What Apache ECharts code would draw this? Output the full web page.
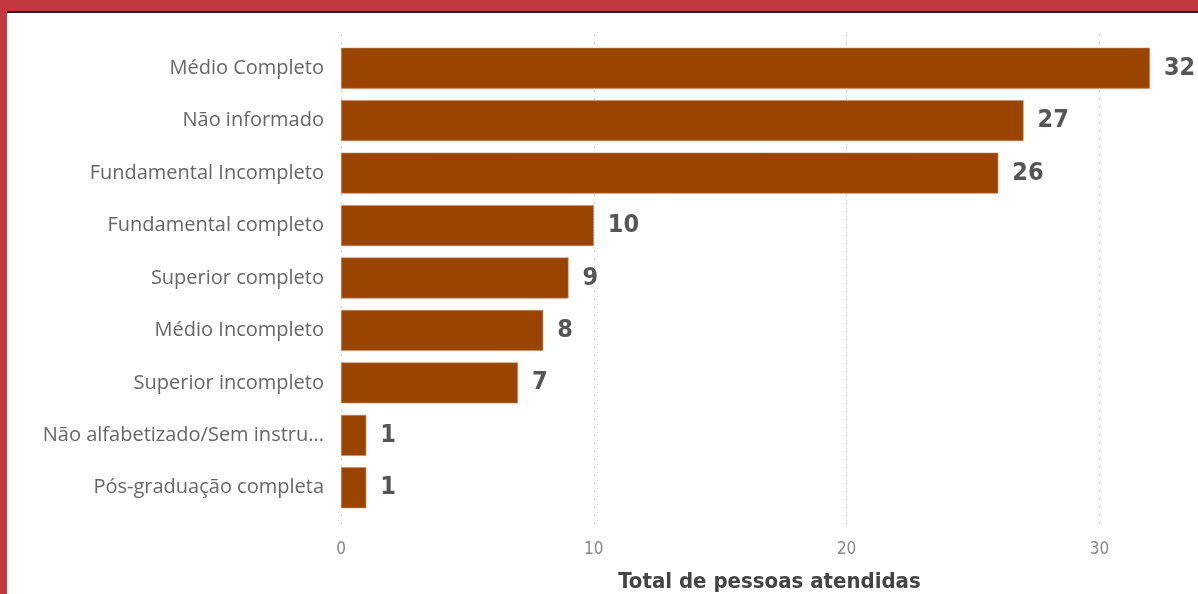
<!DOCTYPE html>
<html>
<head>
<meta charset="utf-8">
<script src="https://cdn.jsdelivr.net/npm/echarts@6/dist/echarts.min.js"></script>
<style>
html,body{margin:0;padding:0;width:1198px;height:594px;overflow:hidden;background:#fff;}
#top{position:absolute;left:0;top:0;width:1198px;height:11px;background:#C4393F;}
#topline{position:absolute;left:7px;top:11px;width:1191px;height:2px;background:#222;}
#left{position:absolute;left:0;top:0;width:7px;height:594px;background:#C4393F;}
#chart{position:absolute;left:0;top:0;width:1198px;height:594px;}
</style>
</head>
<body>
<div id="chart"></div>
<div id="top"></div>
<div id="topline"></div>
<div id="left"></div>
<script>
const categories = [
  "Médio Completo",
  "Não informado",
  "Fundamental Incompleto",
  "Fundamental completo",
  "Superior completo",
  "Médio Incompleto",
  "Superior incompleto",
  "Não alfabetizado/Sem instrução",
  "Pós-graduação completa"
];
const values = [32, 27, 26, 10, 9, 8, 7, 1, 1];
const xTicks = [0, 10, 20, 30];
const axisTitle = "Total de pessoas atendidas";
const xMax = 33.9;

const chart = echarts.init(document.getElementById('chart'));
chart.setOption({
  animation: false,
  grid: [
    {left: 341, top: 42, width: 857, height: 472, containLabel: false, outerBoundsMode: 'none'},
    {left: 341, top: 34, width: 857, height: 496, containLabel: false, outerBoundsMode: 'none'}
  ],
  xAxis: [
    {
      gridIndex: 0, type: 'value', min: 0, max: xMax, interval: 10,
      axisLine: {show: false}, axisTick: {show: false}, axisLabel: {show: false},
      splitLine: {show: false}
    },
    {
      gridIndex: 1, type: 'value', min: 0, max: xMax, interval: 10,
      axisLine: {show: false}, axisTick: {show: false},
      axisLabel: {
        color: '#888', fontFamily: 'DejaVu Sans Condensed', fontSize: 17, margin: 11,
        showMaxLabel: false,
        formatter: v => xTicks.includes(v) ? String(v) : ''
      },
      splitLine: {show: true, lineStyle: {color: '#d2d2d2', type: [2, 6], width: 1}},
      name: axisTitle, nameLocation: 'middle', nameGap: 41,
      nameTextStyle: {color: '#444', fontFamily: 'DejaVu Sans Condensed', fontWeight: 'bold', fontSize: 22}
    }
  ],
  yAxis: [
    {
      gridIndex: 0, type: 'category', data: categories, inverse: true,
      axisLine: {show: false}, axisTick: {show: false},
      axisLabel: {
        color: '#666', fontFamily: 'Open Sans', fontSize: 20, margin: 17,
        width: 283, overflow: 'truncate', ellipsis: '...'
      },
      splitLine: {show: false}
    },
    {
      gridIndex: 1, type: 'value', show: false, min: 0, max: 1,
      splitLine: {show: false}
    }
  ],
  series: [{
    type: 'bar', xAxisIndex: 0, yAxisIndex: 0, data: values, barCategoryGap: '22%', z: 3,
    itemStyle: {color: '#994400', borderColor: '#c98a66', borderWidth: 0.6},
    label: {
      show: true, position: 'right', distance: 14,
      color: '#555', fontFamily: 'DejaVu Sans Condensed', fontWeight: 'bold', fontSize: 25
    }
  }]
});
</script>
</body>
</html>
